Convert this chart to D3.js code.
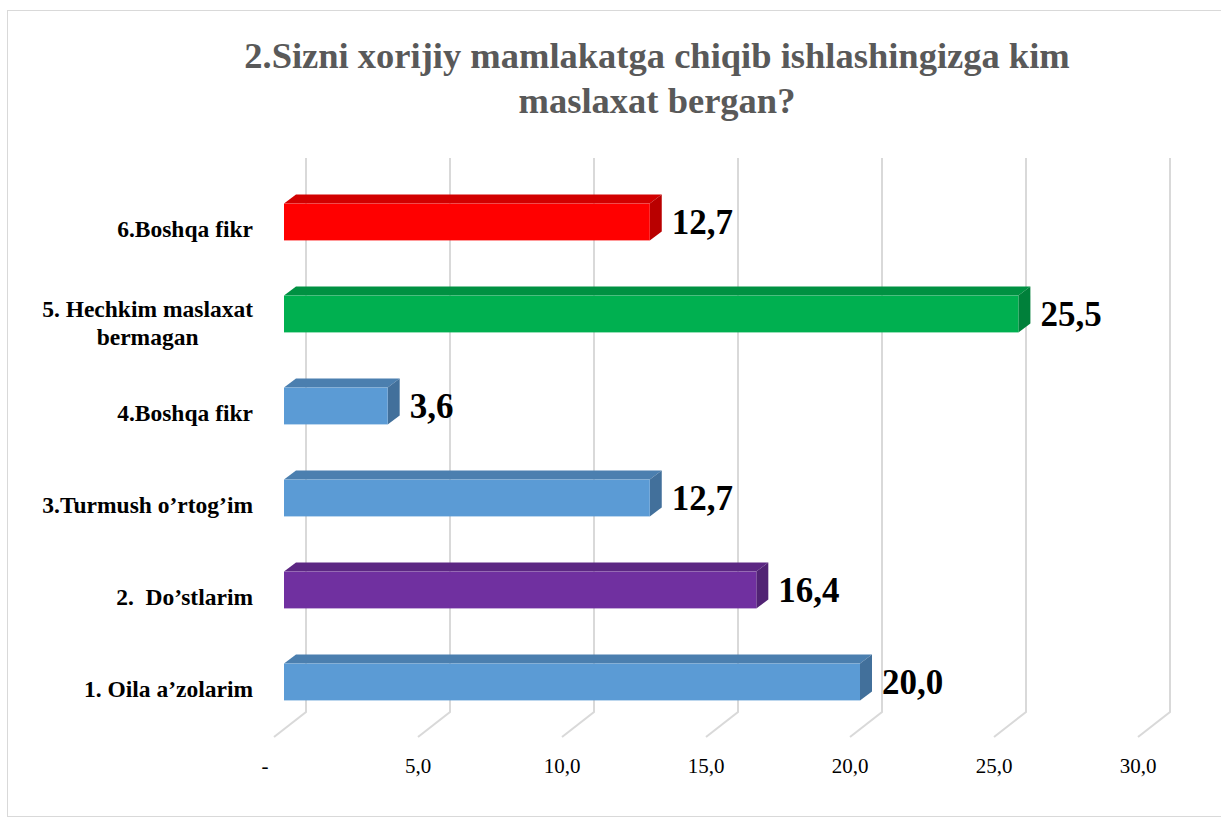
<!DOCTYPE html>
<html>
<head>
<meta charset="utf-8">
<script src="https://cdn.jsdelivr.net/npm/d3@7"></script>
<style>
  body { margin: 0; background: #fff; }
</style>
</head>
<body>
<svg id="chart" width="1221" height="820"></svg>
<script>
// chart data — bottom to top order as in the picture
const categories = ['1. Oila a\u2019zolarim', '2.  Do\u2019stlarim', '3.Turmush o\u2019rtog\u2019im', '4.Boshqa fikr', '5. Hechkim maslaxat bermagan', '6.Boshqa fikr'];
const values = [20.0, 16.4, 12.7, 3.6, 25.5, 12.7];
const barColors = ['#5B9BD5', '#7030A0', '#5B9BD5', '#5B9BD5', '#00B050', '#FF0000'];
const axisTicks = [0, 5, 10, 15, 20, 25, 30];
const titleLines = ['2.Sizni xorijiy mamlakatga chiqib ishlashingizga kim', 'maslaxat bergan?'];

const FONT = "'Liberation Serif', 'Times New Roman', 'DejaVu Serif', serif";
const svg = d3.select('#chart').style('font-family', FONT);

// outer frame
svg.append('rect').attr('x', 7.5).attr('y', 10.5).attr('width', 1220).attr('height', 806)
  .attr('fill', 'none').attr('stroke', '#d9d9d9').attr('stroke-width', 1);

// title
svg.append('g').selectAll('text').data(titleLines).enter().append('text')
  .attr('x', 657).attr('y', (d, i) => 68 + i * 45)
  .attr('text-anchor', 'middle')
  .attr('font-family', FONT)
  .style('font-size', '36.5px').style('font-weight', 'bold').style('fill', '#595959')
  .text(d => d);

// scales (back wall)
const x = d3.scaleLinear().domain([0, 30]).range([306, 1170]);
const rows = categories.map((c, i) => ({ cat: c, val: values[i], color: barColors[i] }));
const y = d3.scaleBand().domain(rows.map(d => d.cat).reverse())
  .range([176, 728]).paddingInner(0.6).paddingOuter(0.3);

// 3d offsets
const frontDx = -22;           // bar front face relative to back wall
const depthDx = 12, depthDy = -9; // bar top/side depth
const floorDx = -32, floorDy = 25;
const gridTop = 158, gridBottom = 712;

// gridlines: vertical on back wall + diagonal on floor
const grid = svg.append('g');
grid.selectAll('path').data(axisTicks).enter().append('path')
  .attr('d', d => `M${x(d)},${gridTop} L${x(d)},${gridBottom} L${x(d) + floorDx},${gridBottom + floorDy}`)
  .attr('fill', 'none').attr('stroke', '#d9d9d9').attr('stroke-width', 2);

// tick labels
const fmt = d => d === 0 ? '-' : d3.format('.1f')(d).replace('.', ',');
svg.append('g').selectAll('text').data(axisTicks).enter().append('text')
  .attr('x', d => x(d) + floorDx - (d === 0 ? 9 : 0))
  .attr('y', 773)
  .attr('text-anchor', 'middle')
  .attr('font-family', FONT)
  .style('font-size', '21px').style('fill', '#000')
  .text(fmt);

// bars
const bars = svg.append('g');
rows.forEach(r => {
  const x0 = x(0) + frontDx;
  const x1 = x(r.val) + frontDx;
  const y0 = y(r.cat), h = y.bandwidth();
  const base = d3.color(r.color);
  const g = bars.append('g');
  // top face
  g.append('path')
    .attr('d', `M${x0},${y0} L${x0 + depthDx},${y0 + depthDy} L${x1 + depthDx},${y0 + depthDy} L${x1},${y0} Z`)
    .attr('fill', base.darker(0.55));
  // side face
  g.append('path')
    .attr('d', `M${x1},${y0} L${x1 + depthDx},${y0 + depthDy} L${x1 + depthDx},${y0 + depthDy + h} L${x1},${y0 + h} Z`)
    .attr('fill', base.darker(0.9));
  // front face
  g.append('rect').attr('x', x0).attr('y', y0).attr('width', x1 - x0).attr('height', h)
    .attr('fill', r.color);
  // value label
  g.append('text')
    .attr('x', x1 + 22).attr('y', y0 + h / 2).attr('dy', '0.35em')
    .attr('font-family', FONT)
    .style('font-size', '35px').style('font-weight', 'bold').style('fill', '#000')
    .text(d3.format('.1f')(r.val).replace('.', ','));
});

// category labels (long one wraps, lines centred on each other)
const labelRight = 253;
const labelG = svg.append('g');
rows.forEach(r => {
  const cy = y(r.cat) + y.bandwidth() / 2;
  const parts = r.cat.length > 22 ? ['5. Hechkim maslaxat', 'bermagan'] : [r.cat];
  const t = labelG.append('text')
    .attr('xml:space', 'preserve')
    .attr('font-family', FONT)
    .style('font-size', '23.5px').style('font-weight', 'bold').style('fill', '#000')
    .attr('x', labelRight).attr('text-anchor', 'end')
    .attr('y', parts.length === 1 ? cy + 15 : cy + 3)
    .text(parts[0]);
  if (parts.length > 1) {
    const w = t.node().getComputedTextLength();
    labelG.append('text')
      .attr('x', labelRight - w / 2).attr('y', cy + 31)
      .attr('text-anchor', 'middle')
      .attr('font-family', FONT)
      .style('font-size', '23.5px').style('font-weight', 'bold').style('fill', '#000')
      .text(parts[1]);
  }
});
</script>
</body>
</html>
